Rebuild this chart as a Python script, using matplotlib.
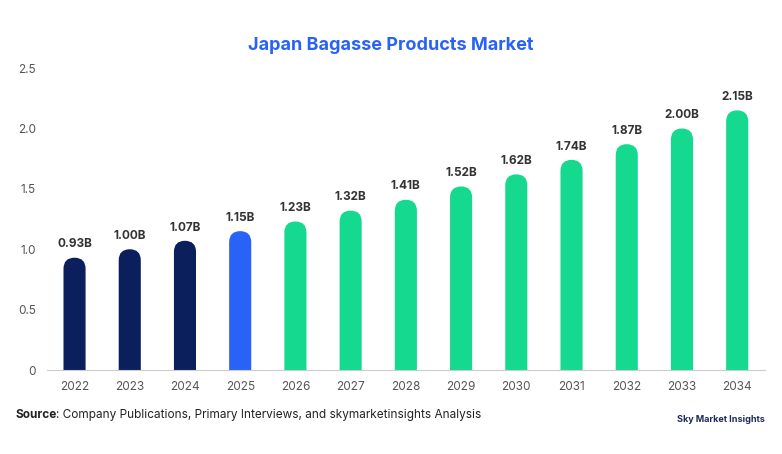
import matplotlib
matplotlib.use("Agg")
import matplotlib.pyplot as plt
from matplotlib.patches import FancyBboxPatch

years = ["2022","2023","2024","2025","2026","2027","2028","2029","2030","2031","2032","2033","2034"]
values = [0.93,1.00,1.07,1.15,1.23,1.32,1.41,1.52,1.62,1.74,1.87,2.00,2.15]
labels = ["0.93B","1.00B","1.07B","1.15B","1.23B","1.32B","1.41B","1.52B","1.62B","1.74B","1.87B","2.00B","2.15B"]
colors = ["#0b1f5c"]*3 + ["#2962f6"] + ["#14d98e"]*9

plt.rcParams['font.family'] = ['Inter', 'DejaVu Sans']
fig = plt.figure(figsize=(7.82, 4.54), dpi=100)
ax = fig.add_axes([0.06, 0.185, 0.918, 0.665])
ax.set_xlim(-0.5, 12.5)
ax.set_ylim(0, 2.5)
w = 0.4
asp = (2.5/302)/(13/718)
for i, (v, c, l) in enumerate(zip(values, colors, labels)):
    p = FancyBboxPatch((i - w/2, -0.2), w, v + 0.2,
                       boxstyle="round,pad=0,rounding_size=0.2",
                       mutation_aspect=asp, fc=c, ec="none", clip_on=True)
    ax.add_patch(p)
    ax.text(i, v + 0.06, l, ha="center", va="bottom", fontsize=8.5,
            fontweight="bold", color="#333333")
ax.set_xticks(range(len(years)))
ax.set_xticklabels(years)
ax.set_yticks([0, 0.5, 1.0, 1.5, 2.0, 2.5])
ax.set_yticklabels(["0", "0.5", "1.0", "1.5", "2.0", "2.5"])
ax.tick_params(length=0, labelsize=8.5, colors="#555555", pad=8)
for s in ["top", "right", "left"]:
    ax.spines[s].set_visible(False)
ax.spines["bottom"].set_color("#cccccc")
fig.text(0.5, 0.9, "Japan Bagasse Products Market", ha="center", va="center",
         fontsize=13, fontweight="bold", color="#2962f6")
fig.text(0.02, 0.085, "Source", fontsize=8.5, fontweight="bold", color="#222222", va="center")
fig.text(0.071, 0.085, ": Company Publications, Primary Interviews, and skymarketinsights Analysis",
         fontsize=8.5, color="#222222", va="center")
fig.text(0.978, 0.075, "Sky Market Insights", ha="right", fontsize=6.5, fontweight="bold",
         color="#1a2b5c", va="center")
fig.savefig("out.png", dpi=100)
